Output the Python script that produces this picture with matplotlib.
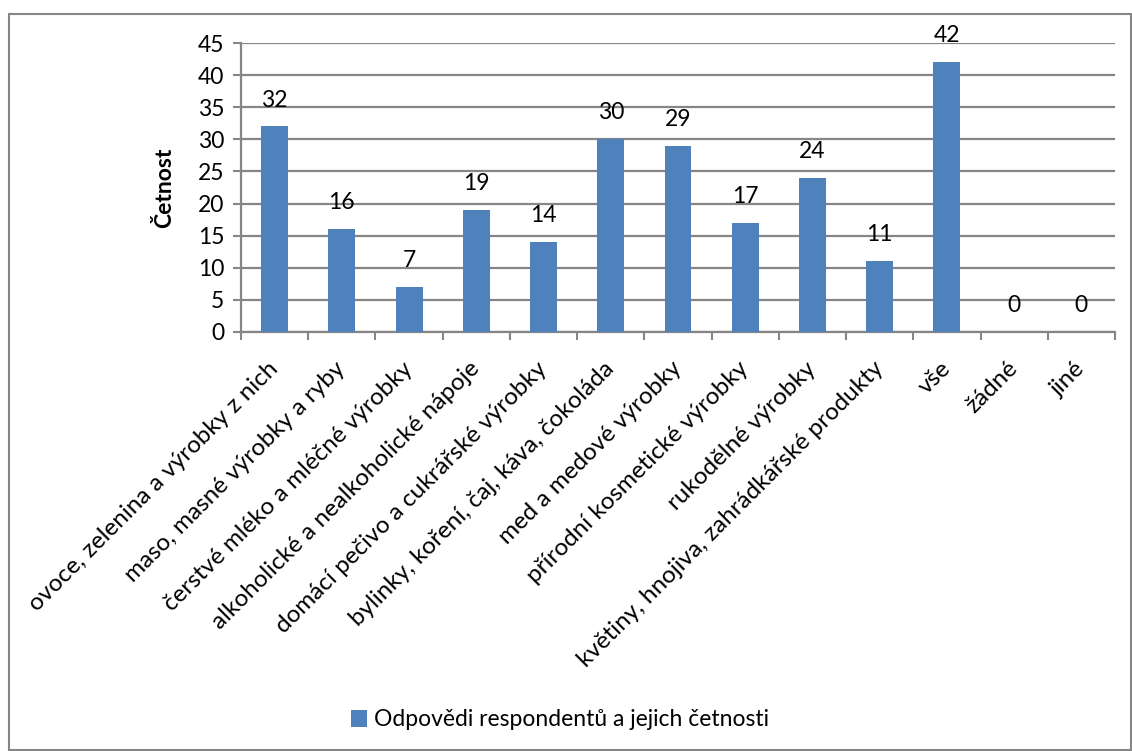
import matplotlib
matplotlib.use("Agg")
import matplotlib.pyplot as plt
from matplotlib.patches import Rectangle
import numpy as np

plt.rcParams['font.family'] = ['Lato', 'DejaVu Sans']

categories = [
    "ovoce, zelenina a výrobky z nich",
    "maso, masné výrobky a ryby",
    "čerstvé mléko a mléčné výrobky",
    "alkoholické a nealkoholické nápoje",
    "domácí pečivo a cukrářské výrobky",
    "bylinky, koření, čaj, káva, čokoláda",
    "med a medové výrobky",
    "přírodní kosmetické výrobky",
    "rukodělné výrobky",
    "květiny, hnojiva, zahrádkářské produkty",
    "vše",
    "žádné",
    "jiné",
]
values = [32, 16, 7, 19, 14, 30, 29, 17, 24, 11, 42, 0, 0]
series_name = "Odpovědi respondentů a jejich četnosti"
y_label = "Četnost"
y_ticks = [0, 5, 10, 15, 20, 25, 30, 35, 40, 45]

W, H = 1132, 751
fig = plt.figure(figsize=(W / 100, H / 100), dpi=100)
ax = fig.add_axes([241 / W, 1 - 332 / H, (1115 - 241) / W, (332 - 43) / H])

bar_color = "#4F81BD"
grid_color = "#868686"
fs = 16.5
fs_x = 17.5

x = np.arange(len(categories))
bars = ax.bar(x, values, width=0.4, color=bar_color, zorder=3, label=series_name)

for xi, v in zip(x, values):
    ax.annotate(str(v), (xi, v), xytext=(0, 11.5), textcoords="offset points",
                ha="center", va="bottom", fontsize=fs, color="black", zorder=4)

ax.set_xlim(-0.5, len(categories) - 0.5)
ax.set_ylim(0, 45)
ax.set_yticks(y_ticks)
ax.set_yticklabels([str(t) for t in y_ticks], fontsize=fs)
ax.yaxis.grid(True, color=grid_color, linewidth=1.6, zorder=0)
ax.set_axisbelow(True)

ax.set_xticks(x)
ax.set_xticklabels(categories, rotation=45, ha="right", va="center",
                   rotation_mode="anchor", fontsize=fs_x)
ax.set_xticks(np.arange(len(categories) + 1) - 0.5, minor=True)
ax.tick_params(axis="x", which="major", length=0, pad=24)
ax.tick_params(axis="x", which="minor", length=6, width=1.5, color=grid_color, direction="out")
ax.tick_params(axis="y", length=6, width=1.5, color=grid_color, pad=6)

for s in ["top", "right"]:
    ax.spines[s].set_visible(False)
for s in ["left", "bottom"]:
    ax.spines[s].set_color(grid_color)
    ax.spines[s].set_linewidth(1.6)

ax.set_ylabel(y_label, fontsize=fs, fontweight="bold")
ax.yaxis.set_label_coords(-0.0755, 0.5)

fig.legend(handles=[bars], labels=[series_name], loc="center",
           bbox_to_anchor=(0.495, 1 - 720 / H), frameon=False, fontsize=fs,
           handlelength=0.7, handleheight=0.7, handletextpad=0.3)

fig.patches.append(Rectangle((9 / W, 1 - 750 / H), (1131 - 9) / W, (750 - 14) / H,
                             transform=fig.transFigure, fill=False,
                             edgecolor=grid_color, linewidth=1.5))

fig.savefig("out.png", dpi=100, facecolor="white")
